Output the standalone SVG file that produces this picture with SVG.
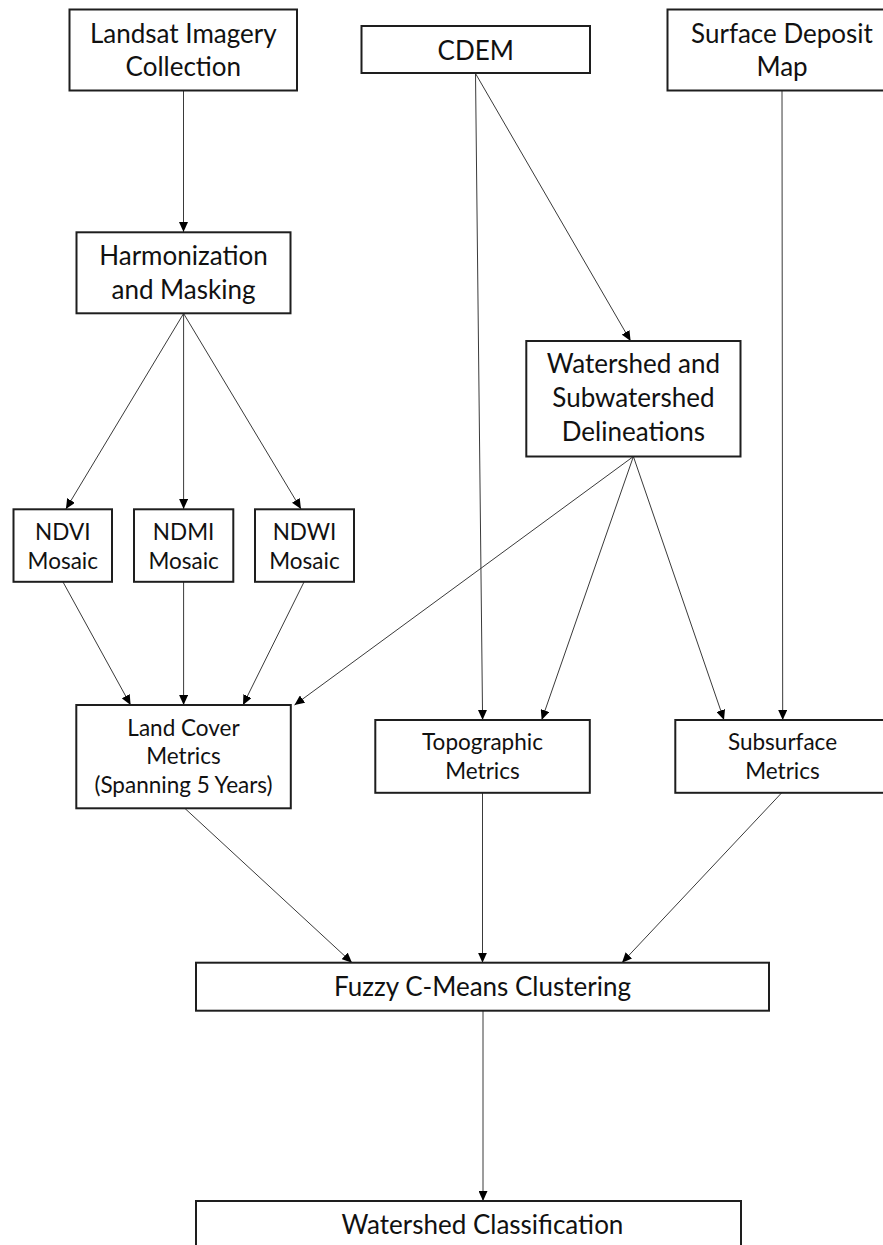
<svg xmlns="http://www.w3.org/2000/svg" width="883" height="1245" viewBox="0 0 883 1245">
<style>
.box{fill:#fff;stroke:#1e1e1e;stroke-width:2}
.big{font-family:Lato,"Liberation Sans",sans-serif;font-size:26px;fill:#111;text-anchor:middle}
.sm{font-family:Lato,"Liberation Sans",sans-serif;font-size:22.5px;fill:#111;text-anchor:middle}
.edge{stroke:#3a3a3a;stroke-width:1;fill:none;marker-end:url(#ah)}
</style>
<defs>
<marker id="ah" markerUnits="userSpaceOnUse" markerWidth="10" markerHeight="9" refX="10" refY="4.5" orient="auto">
<path d="M0,0 L10,4.5 L0,9 z" fill="#000"/>
</marker>
</defs>
<rect width="883" height="1245" fill="#fff"/>
<g id="connectors">
<line class="edge" x1="183.5" y1="91" x2="183.5" y2="232"/>
<line class="edge" x1="183.6" y1="313.5" x2="65.9" y2="509"/>
<line class="edge" x1="183.6" y1="313.5" x2="183.6" y2="509"/>
<line class="edge" x1="183.6" y1="313.5" x2="301" y2="509"/>
<line class="edge" x1="475.5" y1="73.5" x2="630.6" y2="341"/>
<line class="edge" x1="475.5" y1="73.5" x2="482.6" y2="720"/>
<line class="edge" x1="782" y1="91" x2="782.7" y2="720"/>
<line class="edge" x1="633.4" y1="456.5" x2="294.5" y2="705"/>
<line class="edge" x1="633.4" y1="456.5" x2="541.7" y2="720"/>
<line class="edge" x1="633.4" y1="456.5" x2="724" y2="720"/>
<line class="edge" x1="63" y1="582" x2="130.6" y2="705"/>
<line class="edge" x1="183.6" y1="582" x2="183.6" y2="705"/>
<line class="edge" x1="304" y1="582" x2="243" y2="705"/>
<line class="edge" x1="185" y1="808.5" x2="352" y2="962.7"/>
<line class="edge" x1="482.5" y1="793" x2="482.5" y2="962.7"/>
<line class="edge" x1="781.5" y1="793" x2="622" y2="962.7"/>
<line class="edge" x1="483" y1="1010.7" x2="483" y2="1201"/>
</g>
<g id="landsat">
<rect class="box" x="69.5" y="9.5" width="227.5" height="81"/>
<text class="big" x="183.3" y="43">Landsat Imagery</text>
<text class="big" x="183.3" y="76">Collection</text>
</g>
<g id="cdem">
<rect class="box" x="361.5" y="26" width="228.5" height="47"/>
<text class="big" x="475.7" y="59.5">CDEM</text>
</g>
<g id="surface">
<rect class="box" x="667.5" y="9.5" width="230" height="81"/>
<text class="big" x="782" y="43">Surface Deposit</text>
<text class="big" x="782" y="76">Map</text>
</g>
<g id="harmonization">
<rect class="box" x="76.5" y="232.3" width="214" height="81"/>
<text class="big" x="183.5" y="265">Harmonization</text>
<text class="big" x="183.5" y="298.5">and Masking</text>
</g>
<g id="watershed">
<rect class="box" x="526.3" y="341" width="214.2" height="115.5"/>
<text class="big" x="633.4" y="373.3">Watershed and</text>
<text class="big" x="633.4" y="407">Subwatershed</text>
<text class="big" x="633.4" y="440.5">Delineations</text>
</g>
<g id="ndvi">
<rect class="box" x="13.5" y="509.3" width="98.5" height="72.5"/>
<text class="sm" x="62.8" y="540">NDVI</text>
<text class="sm" x="62.8" y="569">Mosaic</text>
</g>
<g id="ndmi">
<rect class="box" x="134" y="509.3" width="99.3" height="72.5"/>
<text class="sm" x="183.6" y="540">NDMI</text>
<text class="sm" x="183.6" y="569">Mosaic</text>
</g>
<g id="ndwi">
<rect class="box" x="255" y="509.3" width="99" height="72.5"/>
<text class="sm" x="304.5" y="540">NDWI</text>
<text class="sm" x="304.5" y="569">Mosaic</text>
</g>
<g id="landcover">
<rect class="box" x="76.3" y="705" width="214.5" height="103.3"/>
<text class="sm" x="183.5" y="735.7">Land Cover</text>
<text class="sm" x="183.5" y="764">Metrics</text>
<text class="sm" x="183.5" y="792.5">(Spanning 5 Years)</text>
</g>
<g id="topographic">
<rect class="box" x="375.3" y="720" width="214.5" height="72.8"/>
<text class="sm" x="482.5" y="750">Topographic</text>
<text class="sm" x="482.5" y="779">Metrics</text>
</g>
<g id="subsurface">
<rect class="box" x="675.3" y="720" width="214.5" height="72.8"/>
<text class="sm" x="782.5" y="750">Subsurface</text>
<text class="sm" x="782.5" y="779">Metrics</text>
</g>
<g id="fuzzy">
<rect class="box" x="196" y="962.7" width="573" height="48"/>
<text class="big" x="482.5" y="995.5">Fuzzy C-Means Clustering</text>
</g>
<g id="classification">
<rect class="box" x="196" y="1201" width="545" height="60"/>
<text class="big" x="482.5" y="1234">Watershed Classification</text>
</g>
</svg>
